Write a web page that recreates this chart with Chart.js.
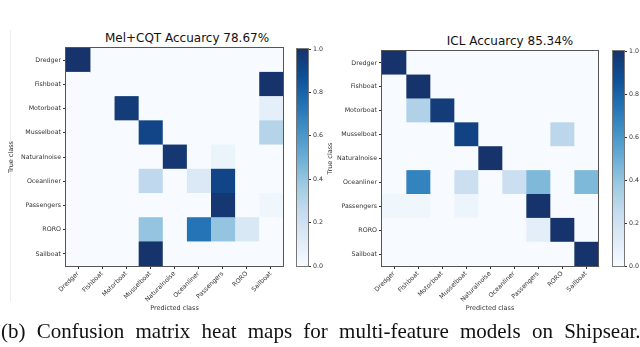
<!DOCTYPE html>
<html>
<head>
<meta charset="utf-8">
<script src="https://cdn.jsdelivr.net/npm/chart.js@4.4.0/dist/chart.umd.min.js"></script>
<style>
  body { margin: 0; background: #fff; width: 640px; height: 347px; overflow: hidden; position: relative; font-family: "DejaVu Sans", sans-serif; }
  canvas { position: absolute; top: 0; }
  .title { position: absolute; font-size: 12px; color: #111; white-space: nowrap; transform: translate(-50%, -50%); }
  .caption { position: absolute; left: 1px; top: 319px; font-family: "Liberation Serif", serif; font-size: 21px; color: #111; white-space: nowrap; word-spacing: 6px; }
  .edge { position: absolute; left: 10px; top: 30px; width: 1px; height: 272px; background: #eee; }
</style>
</head>
<body>
<div class="edge"></div>
<div class="title" style="left:187px; top:38px;">Mel+CQT Accuarcy 78.67%</div>
<div class="title" style="left:510px; top:41px;">ICL Accuarcy 85.34%</div>
<canvas id="melCqt" width="300" height="330" style="left:0px"></canvas>
<canvas id="melCqtBar" width="40" height="300" style="left:290px"></canvas>
<canvas id="icl" width="300" height="330" style="left:320px"></canvas>
<canvas id="iclBar" width="34" height="300" style="left:606px"></canvas>
<div class="caption">(b) Confusion matrix heat maps for multi-feature models on Shipsear.</div>
<script>
// class names, same order for true (rows) and predicted (columns)
const classLabels = ["Dredger", "Fishboat", "Motorboat", "Musselboat", "Naturalnoise", "Oceanliner", "Passengers", "RORO", "Sailboat"]

// Mel+CQT confusion matrix (row = true class)
const melCqtMatrix = [
  [1.00, 0, 0, 0, 0, 0, 0, 0, 0],
  [0, 0, 0, 0, 0, 0, 0, 0, 1.00],
  [0, 0, 0.96, 0, 0, 0, 0, 0, 0.09],
  [0, 0, 0, 0.92, 0, 0, 0, 0, 0.30],
  [0, 0, 0, 0, 0.98, 0, 0.06, 0, 0],
  [0, 0, 0, 0.27, 0, 0.14, 0.92, 0, 0],
  [0, 0, 0, 0, 0, 0, 0.98, 0, 0.04],
  [0, 0, 0, 0.40, 0, 0.74, 0.40, 0.15, 0],
  [0, 0, 0, 1.00, 0, 0, 0, 0, 0],
]

// ICL confusion matrix (row = true class)
const iclMatrix = [
  [1.00, 0, 0, 0, 0, 0, 0, 0, 0],
  [0, 1.00, 0, 0, 0, 0, 0, 0, 0],
  [0, 0.32, 0.96, 0, 0, 0, 0, 0, 0],
  [0, 0, 0, 0.93, 0, 0, 0, 0.28, 0],
  [0, 0, 0, 0, 1.00, 0, 0, 0, 0],
  [0, 0.68, 0, 0.22, 0, 0.22, 0.45, 0, 0.45],
  [0.04, 0.04, 0, 0.05, 0, 0, 1.00, 0, 0],
  [0, 0, 0, 0, 0, 0, 0.10, 1.00, 0],
  [0, 0, 0, 0, 0, 0, 0, 0, 1.00],
]

const colorbarRange = [0, 1]
const colorbarStep = 0.2

// matplotlib "Blues" (top end a bit softer, as in the scan)
const bluesStops = ["#f7fbff", "#deebf7", "#c6dbef", "#9ecae1", "#6baed6", "#4292c6", "#2171b5", "#0d4f97", "#17336b"]

const hexToRgb = (h) => [1, 3, 5].map((i) => parseInt(h.slice(i, i + 2), 16))

const blues = (v) => {
  const t = Math.max(0, Math.min(1, v)) * (bluesStops.length - 1)
  const i = Math.min(Math.floor(t), bluesStops.length - 2)
  const f = t - i
  const a = hexToRgb(bluesStops[i])
  const b = hexToRgb(bluesStops[i + 1])
  return "rgb(" + a.map((x, k) => Math.round(x + (b[k] - x) * f)).join(",") + ")"
}

const tickFont = { family: "DejaVu Sans", size: 6.3 }
const inkColor = "#333"

// box around the plot area, like matplotlib spines
const framePlugin = {
  id: "frame",
  afterDraw(chart, args, opts) {
    const { ctx, chartArea: a } = chart
    ctx.save()
    ctx.strokeStyle = opts.color || "#444"
    ctx.lineWidth = 1
    ctx.strokeRect(Math.round(a.left) - 0.5, Math.round(a.top) - 0.5, Math.round(a.right - a.left) + 1, Math.round(a.bottom - a.top) + 1)
    ctx.restore()
  },
}

const createHeatmap = (canvas, matrix, pad, yAxisWidth, xAxisHeight) => {
  const datasets = classLabels.map((pred, j) => ({
    label: pred,
    data: classLabels.map(() => [j, j + 1]),
    backgroundColor: matrix.map((row) => blues(row[j])),
    borderWidth: 0,
    barPercentage: 1,
    categoryPercentage: 1,
    grouped: false,
  }))

  return new Chart(canvas.getContext("2d"), {
    type: "bar",
    data: { labels: classLabels, datasets: datasets },
    options: {
      indexAxis: "y",
      responsive: false,
      animation: false,
      layout: { padding: pad },
      plugins: {
        legend: { display: false },
        tooltip: { enabled: false },
        frame: { color: "#555" },
      },
      scales: {
        x: {
          type: "linear",
          min: 0,
          max: classLabels.length,
          afterBuildTicks: (axis) => {
            axis.ticks = classLabels.map((_, i) => ({ value: i + 0.5 }))
          },
          afterFit: (axis) => {
            axis.height = xAxisHeight
          },
          ticks: {
            autoSkip: false,
            minRotation: 45,
            maxRotation: 45,
            padding: 1,
            font: tickFont,
            color: inkColor,
            callback: (v, i) => classLabels[i],
          },
          grid: { drawOnChartArea: false, tickLength: 3, color: inkColor },
          border: { color: "#555" },
          title: { display: true, text: "Predicted class", font: { family: "DejaVu Sans", size: 6.5 }, color: inkColor, padding: { top: 0, bottom: 2 } },
        },
        y: {
          afterFit: (axis) => {
            axis.width = yAxisWidth
          },
          ticks: { padding: 2, font: tickFont, color: inkColor },
          grid: { offset: false, drawOnChartArea: false, tickLength: 3, color: inkColor },
          border: { color: "#555" },
          title: { display: true, text: "True class", font: { family: "DejaVu Sans", size: 6.5 }, color: inkColor, padding: 0 },
        },
      },
    },
    plugins: [framePlugin],
  })
}

const createColorbar = (canvas, pad, axisWidth) => {
  return new Chart(canvas.getContext("2d"), {
    type: "bar",
    data: {
      labels: [""],
      datasets: [{
        data: [colorbarRange],
        backgroundColor: (c) => {
          const a = c.chart.chartArea
          if (!a) return null
          const g = c.chart.ctx.createLinearGradient(0, a.bottom, 0, a.top)
          bluesStops.forEach((s, i) => g.addColorStop(i / (bluesStops.length - 1), s))
          return g
        },
        borderWidth: 0,
        barPercentage: 1,
        categoryPercentage: 1,
      }],
    },
    options: {
      responsive: false,
      animation: false,
      layout: { padding: pad },
      plugins: {
        legend: { display: false },
        tooltip: { enabled: false },
        frame: { color: "#777" },
      },
      scales: {
        x: { display: false },
        y: {
          position: "right",
          min: colorbarRange[0],
          max: colorbarRange[1],
          afterFit: (axis) => {
            axis.width = axisWidth
          },
          ticks: { stepSize: colorbarStep, padding: 2, font: tickFont, color: inkColor, callback: (v) => v.toFixed(1) },
          grid: { drawOnChartArea: false, tickLength: 3, color: inkColor },
          border: { display: false },
        },
      },
    },
    plugins: [framePlugin],
  })
}

createHeatmap(document.getElementById("melCqt"), melCqtMatrix, { left: 7, top: 48, right: 17, bottom: 16 }, 59, 48)
createColorbar(document.getElementById("melCqtBar"), { left: 7, top: 49, right: 0, bottom: 34 }, 22)
createHeatmap(document.getElementById("icl"), iclMatrix, { left: 6, top: 51, right: 22, bottom: 16 }, 56, 48)
createColorbar(document.getElementById("iclBar"), { left: 7, top: 51, right: 0, bottom: 34 }, 16)
</script>
</body>
</html>
